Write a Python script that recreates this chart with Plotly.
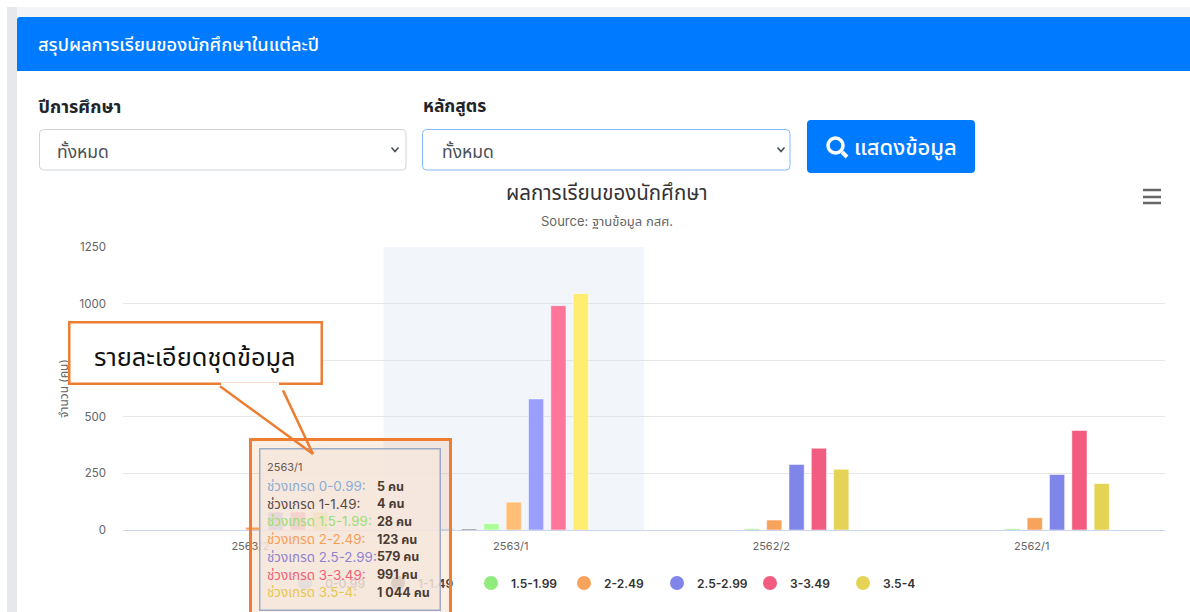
import plotly.graph_objects as go

categories = ["2563/2", "2563/1", "2562/2", "2562/1"]
series_names = ["0-0.99", "1-1.49", "1.5-1.99", "2-2.49", "2.5-2.99", "3-3.49", "3.5-4"]
grade_0_099 = [0, 5, 0, 0]
grade_1_149 = [0, 4, 0, 0]
grade_15_199 = [0, 28, 5, 5]
grade_2_249 = [12, 123, 44, 54]
grade_25_299 = [79, 579, 289, 245]
grade_3_349 = [79, 991, 361, 440]
grade_35_4 = [79, 1044, 268, 205]
series_values = [grade_0_099, grade_1_149, grade_15_199, grade_2_249, grade_25_299, grade_3_349, grade_35_4]
colors = ["#7cb5ec", "#434348", "#90ed7d", "#f7a35c", "#8085e9", "#f15c80", "#e4d354"]
hover_colors = ["#96cfff", "#5d5d62", "#aaff97", "#ffbd76", "#9a9fff", "#ff769a", "#feed6e"]
y_ticks = [0, 250, 500, 750, 1000, 1250]
hovered = 1
value_labels = ["5 คน", "4 คน", "28 คน", "123 คน", "579 คน", "991 คน", "1 044 คน"]

W, H = 1190, 612
L, R, T, B = 123, 25, 247, 82
FONT = "Inter, 'Noto Sans', 'Noto Sans Thai', 'Noto Sans CJK SC', sans-serif"
PW, PH = W - L - R, H - T - B
ORANGE = "#ed7d31"
BLUE = "#007bff"


def X(p):
    return (p - L) / PW


def Y(p):
    return 1 - (p - T) / PH


def rrect(x0, y0, x1, y1, r):
    return (f"M{X(x0+r)},{Y(y0)} L{X(x1-r)},{Y(y0)} Q{X(x1)},{Y(y0)} {X(x1)},{Y(y0+r)} "
            f"L{X(x1)},{Y(y1-r)} Q{X(x1)},{Y(y1)} {X(x1-r)},{Y(y1)} L{X(x0+r)},{Y(y1)} "
            f"Q{X(x0)},{Y(y1)} {X(x0)},{Y(y1-r)} L{X(x0)},{Y(y0+r)} Q{X(x0)},{Y(y0)} {X(x0+r)},{Y(y0)} Z")


fig = go.Figure()
for name, vals, c, hc in zip(series_names, series_values, colors, hover_colors):
    fig.add_bar(
        x=categories, y=vals, name=name, showlegend=False,
        marker=dict(color=[hc if i == hovered else c for i in range(len(categories))],
                    line=dict(color="rgba(255,255,255,0.5)", width=1)),
    )
for name, c in zip(series_names, colors):
    fig.add_scatter(x=[None], y=[None], mode="markers", name=name,
                    marker=dict(color=c, size=14, symbol="circle"))

shapes = []


def rect(x0, y0, x1, y1, fill):
    shapes.append(dict(type="rect", xref="paper", yref="paper", x0=X(x0), x1=X(x1), y0=Y(y0), y1=Y(y1),
                       fillcolor=fill, line_width=0, layer="below"))


def path(d, fill=None, line=None, lw=1, layer="below"):
    s = dict(type="path", xref="paper", yref="paper", path=d, layer=layer)
    if fill:
        s["fillcolor"] = fill
    s["line"] = dict(color=line, width=lw) if line else dict(width=0)
    shapes.append(s)


def seg(x0, y0, x1, y1, color, lw):
    shapes.append(dict(type="line", xref="paper", yref="paper", x0=X(x0), x1=X(x1), y0=Y(y0), y1=Y(y1),
                       line=dict(color=color, width=lw), layer="below"))


# page chrome
rect(7, 7, 1190, 17, "#f3f4f8")
rect(7, 7, 17, 612, "#e7e8ec")
rect(17, 17, 1190, 612, "#ffffff")
path(rrect(17, 17, 1240, 90, 3), fill=BLUE)
rect(17, 71, 1190, 95, "#ffffff")
# selects
path(rrect(39.5, 129.5, 406, 170, 4), fill="#ffffff", line="#ced4da")
path(rrect(422.5, 129.5, 790, 170, 4), fill="#ffffff", line="#80bdff")
for cx in (395, 781):
    path(f"M{X(cx-3.5)},{Y(147.5)} L{X(cx)},{Y(151.5)} L{X(cx+3.5)},{Y(147.5)}", line="#495057", lw=1.6)
# button
path(rrect(807, 120, 975, 173, 4), fill=BLUE)
shapes.append(dict(type="circle", xref="paper", yref="paper", x0=X(828), x1=X(843), y0=Y(138), y1=Y(153),
                   line=dict(color="#ffffff", width=3.5), layer="below"))
seg(842, 152, 847, 157, "#ffffff", 4)
# hamburger
for yy in (190, 197, 203):
    seg(1143, yy, 1161, yy, "#666666", 2.5)
# hover band
shapes.append(dict(type="rect", xref="x", yref="y", x0=hovered - 0.5, x1=hovered + 0.5, y0=0, y1=1250,
                   fillcolor="rgba(204,214,235,0.25)", line_width=0, layer="between"))
# callout pointer fill
path(f"M{X(217)},{Y(385)} L{X(313)},{Y(454)} L{X(280)},{Y(385)} Z", fill="#ffffff", layer="above")

ann = []


def text(x, y, s, size=12, color="#333333", anchor="left", weight=None, yanchor="middle", font=None):
    f = dict(size=size, color=color, family=font or FONT)
    if weight:
        f["weight"] = weight
    ann.append(dict(xref="paper", yref="paper", x=X(x), y=Y(y), text=s, showarrow=False,
                    xanchor=anchor, yanchor=yanchor, font=f, borderpad=0, borderwidth=0))


def box(x0, y0, x1, y1, fill, line, lw):
    ann.append(dict(xref="paper", yref="paper", x=X(x0), y=Y(y0), text=" ", showarrow=False,
                    xanchor="left", yanchor="top", width=x1 - x0 - 2 * lw, height=y1 - y0 - 2 * lw,
                    bgcolor=fill, bordercolor=line, borderwidth=lw, borderpad=0))


text(38, 44, "สรุปผลการเรียนของนักศึกษาในแต่ละปี", 18.3, "#ffffff", weight=500)
text(38, 106, "ปีการศึกษา", 18, "#212529", weight=700)
text(423, 106, "หลักสูตร", 17.5, "#212529", weight=700)
text(57, 151, "ทั้งหมด", 17.5, "#495057")
text(442, 151, "ทั้งหมด", 17.5, "#495057")
text(854, 147, "แสดงข้อมูล", 22, "#ffffff", weight=500)
text(607, 192, "ผลการเรียนของนักศึกษา", 20.5, "#333333", anchor="center")
text(607, 221, "Source: ฐานข้อมูล กสศ.", 13, "#666666", anchor="center")

# tooltip
box(259, 448, 441, 611, "rgba(247,247,247,0.85)", "#8fb3de", 1.5)
text(267, 467, categories[hovered], 11, "#555555")
for i, (name, c, v) in enumerate(zip(series_names, colors, value_labels)):
    yy = 486 + i * 17.7
    text(267, yy, f"ช่วงเกรด {name}:", 13.4, c)
    text(377, yy, v, 12.5, "#333333", weight=700)
# orange highlight box
box(249, 438, 452, 640, "rgba(237,125,49,0.13)", ORANGE, 3)
# callout
box(68, 321, 323, 385, "#ffffff", ORANGE, 2.5)
text(195, 357, "รายละเอียดชุดข้อมูล", 25.4, "#111111", anchor="center", weight=400)
ann.append(dict(xref="paper", yref="paper", x=X(279), y=Y(384), text=" ", showarrow=True, arrowhead=0,
                arrowwidth=3, arrowcolor="#ffffff", standoff=0, ax=218 - 279, ay=0))
for sx in (217, 280):
    ann.append(dict(xref="paper", yref="paper", x=X(313), y=Y(454), text=" ", showarrow=True, arrowhead=0,
                    arrowwidth=2.5, arrowcolor=ORANGE, standoff=0, ax=sx - 313, ay=384 - 454))

fig.update_layout(
    width=W, height=H, margin=dict(l=L, r=R, t=T, b=B, pad=0, autoexpand=False),
    paper_bgcolor="#ffffff", plot_bgcolor="rgba(0,0,0,0)", showlegend=True,
    barmode="group", bargap=0.4, bargroupgap=0.32,
    font=dict(family=FONT, color="#666666", size=11.5),
    legend=dict(orientation="h", x=X(285), y=Y(583), xanchor="left", yanchor="middle",
                entrywidth=48, entrywidthmode="pixels", font=dict(size=12, color="#333333", weight=600),
                bgcolor="rgba(0,0,0,0)", itemclick=False, itemdoubleclick=False),
    xaxis=dict(type="category", categoryorder="array", categoryarray=categories, range=[-0.5, 3.5],
               showgrid=False, showline=True, linecolor="#ccd6eb", linewidth=1, ticks="", layer="above traces",
               tickfont=dict(color="#666666", size=11), ticklabelstandoff=6, ticklabelshift=-3, fixedrange=True),
    yaxis=dict(range=[0, 1250], tickvals=y_ticks, gridcolor="#e6e6e6", gridwidth=1, zeroline=False,
               showline=False, ticks="", tickfont=dict(color="#666666", size=11.5),
               ticklabelstandoff=16, tickformat="d", fixedrange=True,
               title=dict(text="จำนวน (คน)", font=dict(size=12, color="#666666"), standoff=8)),
    shapes=shapes, annotations=ann,
)
fig.write_html("out.html", config=dict(displayModeBar=False),
               post_script="document.body.style.margin='0';document.body.style.overflow='hidden';")
